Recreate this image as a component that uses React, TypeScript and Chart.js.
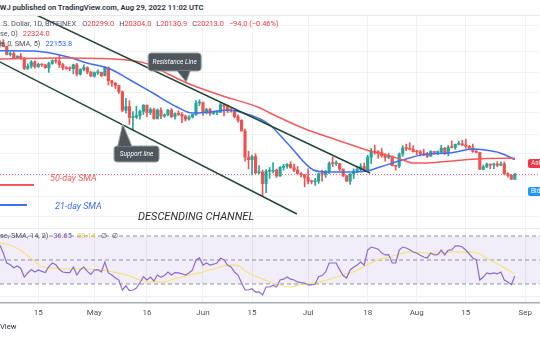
import React, { useEffect, useRef } from 'react';
import { Chart, registerables } from 'chart.js';

Chart.register(...registerables);

// ---------------- data ----------------
// day index: Apr 1 = 0, first candle Apr 4
const FIRST_DAY = 3;

const opens = [
  46410, 46580, 45500, 43170, 43440, 42250, 42750, 42160, 39530, 40070, 41150, 39940, 40550, 40380, 39680, 40800, 41490, 41360, 40480, 39710, 39470, 39450, 40430, 38120, 39240, 39740, 38600,
  37630, 38470, 38530, 37750, 39690, 36550, 36010, 35470, 34060, 30300, 31020, 28940, 29030, 29280, 30080, 31300, 29860, 30430, 28710, 30310, 29190, 29430, 30320, 29100, 29650, 29540, 29200, 28630, 29030, 29470, 31730,
  31800, 29800, 30450, 29700, 29860, 29910, 31370, 31130, 30200, 30110, 29090, 28420, 26570, 22490, 22140, 22580, 20380, 20470, 19020, 20570, 20570, 20720, 19970, 21090, 21230, 21500, 21030, 20730, 20280, 20100,
  19780, 19300, 19240, 19300, 20230, 20190, 20550, 21640, 21590, 21590, 20860, 19970, 19330, 20210, 20570, 20830, 21190, 20780, 22480, 23390, 23230, 23160, 22680, 22460, 22580, 21310, 21250, 22950, 23840, 23780, 23640,
  23300, 23270, 22990, 22820, 22620, 23310, 23170, 23210, 23810, 23160, 23950, 23930, 24400, 24440, 24310, 24100, 23850, 23340, 23190, 20830, 21140, 21520, 21400, 21530, 21370, 21560, 20240, 20040, 19550,
];
const highs = [
  47200, 47440, 45500, 43900, 43970, 42800, 43430, 42410, 40700, 41560, 41500, 40880, 40700, 40600, 41100, 41760, 42200, 42980, 40800, 39990, 39930, 40620, 40800, 39480, 40400, 39930, 38800,
  38680, 39170, 38650, 40020, 39850, 36650, 36130, 35500, 34250, 32660, 32200, 30030, 31080, 30330, 31400, 31300, 30780, 30670, 30540, 30770, 29620, 30480, 30650, 29830, 30200, 29870, 29380, 29270, 29530, 32200, 32400,
  31980, 30670, 30660, 29950, 30180, 31750, 31560, 31330, 30700, 30370, 29440, 28540, 26900, 23360, 22800, 22980, 21340, 20740, 20800, 21070, 21720, 20870, 21200, 21480, 21590, 21860, 21540, 21200, 20400, 20160,
  20880, 19430, 19650, 20350, 20730, 20680, 21840, 22530, 21960, 21600, 20870, 20050, 20260, 20890, 21200, 21580, 21680, 22780, 23800, 24280, 23440, 23760, 22990, 23020, 22670, 21350, 23110, 24200, 24440, 24670, 24190,
  23510, 23470, 23650, 23220, 23450, 23350, 23400, 24250, 23930, 24230, 24920, 24450, 24890, 25050, 25200, 24250, 24440, 23600, 23200, 21380, 21680, 21520, 21650, 21880, 21820, 21820, 20360, 20140, 20304,
];
const lows = [
  45120, 45350, 43050, 42730, 42110, 42130, 41870, 39200, 39250, 39550, 39560, 39760, 40000, 39550, 38540, 40570, 40830, 39760, 39180, 39300, 38900, 38200, 37700, 37870, 38880, 38200, 37580,
  37390, 38050, 37510, 37670, 35570, 35260, 34780, 33720, 30030, 29730, 27700, 26700, 28750, 28620, 29490, 29090, 29460, 28650, 28670, 28730, 28950, 29230, 28880, 28640, 29300, 28020, 28270, 28470, 28820, 29300, 31200,
  29330, 29600, 29300, 29480, 29480, 29880, 29230, 29850, 29950, 28850, 28100, 26560, 21930, 20850, 20110, 20230, 20250, 17620, 17950, 19650, 20350, 19770, 19900, 20720, 20930, 20960, 20510, 20190, 19850, 18630,
  18970, 18980, 18790, 19050, 19300, 19770, 20240, 21180, 21330, 20650, 19900, 19240, 18910, 19620, 20380, 20490, 20760, 20770, 21580, 22910, 22340, 22500, 21930, 22280, 21250, 20720, 21040, 22600, 23420, 23550, 23230,
  22850, 22670, 22700, 22430, 22590, 22930, 22850, 23150, 22860, 22670, 23850, 23630, 24300, 24180, 23780, 23680, 23200, 23100, 20780, 20760, 21060, 20890, 20900, 21160, 21310, 20110, 19820, 19520, 19530,
];
const closes = [
  46580, 45500, 43170, 43440, 42250, 42750, 42160, 39530, 40070, 41150, 39940, 40550, 40380, 39680, 40800, 41490, 41360, 40480, 39710, 39470, 39450, 40430, 38120, 39240, 39740, 38600, 37630,
  38470, 38530, 37750, 39690, 36550, 36010, 35470, 34060, 30300, 31020, 28940, 29030, 29280, 30080, 31300, 29860, 30430, 28710, 30310, 29190, 29430, 30320, 29100, 29650, 29540, 29200, 28630, 29030, 29470, 31730, 31800,
  29800, 30450, 29700, 29860, 29910, 31370, 31130, 30200, 30110, 29090, 28420, 26570, 22490, 22140, 22580, 20380, 20470, 19020, 20570, 20570, 20720, 19970, 21090, 21230, 21500, 21030, 20730, 20280, 20100, 19780,
  19300, 19240, 19300, 20230, 20190, 20550, 21640, 21590, 21590, 20860, 19970, 19330, 20210, 20570, 20830, 21190, 20780, 22480, 23390, 23230, 23160, 22680, 22460, 22580, 21310, 21250, 22950, 23840, 23780, 23640, 23300,
  23270, 22990, 22820, 22620, 23310, 23170, 23210, 23810, 23160, 23950, 23930, 24400, 24440, 24310, 24100, 23850, 23340, 23190, 20830, 21140, 21520, 21400, 21530, 21370, 21560, 20240, 20040, 19550, 20213,
];

// 50-day SMA (red) and 21-day SMA (blue)
const sma50Days = [3.0, 20.2, 31.6, 41.6, 45.3, 51.6, 56.4, 65.8, 77.3, 80.1, 89.5, 99.2, 108.7, 114.4, 118.1, 120.9, 124.9, 133.5, 142.0, 150.0];
const sma50Values = [41944, 42222, 42088, 41424, 40642, 37899, 36023, 33380, 30735, 29776, 27071, 25084, 23391, 22661, 22093, 21675, 21675, 22022, 22303, 22324];
const sma21Days = [3.0, 12.5, 22.2, 27.9, 34.5, 40.2, 46.7, 53.6, 57.9, 63.0, 68.7, 72.4, 77.3, 80.1, 85.8, 92.5, 96.4, 102.1, 107.8, 111.5, 118.0, 124.9, 131.5, 138.0, 141.5, 145.8, 150.0];
const sma21Values = [44228, 44143, 42573, 40903, 39375, 36717, 33806, 30931, 29776, 29964, 30348, 29776, 28662, 27591, 24146, 20733, 20472, 20472, 20601, 21131, 22093, 22950, 23097, 23692, 23540, 23097, 22154];

// RSI (14), one value per day from Apr 4
const rsiValues = [
  62.5, 55.8, 47.5, 46, 43.5, 45, 43, 35.8, 39.2, 42, 40, 41.7, 40.5, 39.5, 44.5, 47.5, 46, 42, 40, 39.5, 39.5, 44.2, 37.5, 42, 44.2, 40.5, 38,
  41.7, 42, 40, 48.3, 39.2, 37.5, 35, 33.3, 25, 28.5, 24.5, 25, 26.7, 31, 36, 33.3, 35.8, 32.5, 37.5, 35.5, 37, 40, 37.5, 39.5, 39.2, 38.5, 37.5, 39.2, 41.7, 50, 51.7,
  45.8, 47.5, 45.8, 46.5, 47.5, 51.7, 50, 45.8, 44.2, 40, 37.5, 31, 25, 25, 26, 23.3, 23.5, 20.8, 27.5, 27.5, 29, 27.5, 33.3, 34, 35.8, 34, 33.3, 31.7, 31.2, 30.8,
  29.2, 29.2, 30, 36, 37, 40, 47.5, 47.5, 47.5, 42, 37, 35, 41.7, 44, 45.8, 48.3, 45.8, 58.3, 60.8, 60, 59, 55.8, 54.2, 54.5, 47.5, 47.5, 58.3, 60.8, 60, 58.5, 56.7,
  55.8, 54, 52.5, 51.7, 55.8, 54.2, 54.5, 58.3, 54.2, 58.3, 58.5, 61.7, 61.7, 60.8, 58.3, 55, 51.7, 50, 33.3, 35.8, 39.2, 38.5, 39.2, 38.5, 40, 33.3, 31.7, 29.5, 36.65,
];
// SMA of RSI (yellow)
const rsiSmaDays = [3.0, 5.9, 8.8, 12.5, 15.3, 18.2, 22.2, 26.8, 31.6, 35.4, 39.3, 43.0, 46.7, 49.6, 53.6, 57.3, 61.0, 65.0, 68.7, 70.7, 73.5, 77.3, 80.2, 83.0, 85.9, 88.7, 92.4, 96.4, 100.1, 103.8, 107.8, 110.7, 114.4, 118.1, 121.0, 125.0, 128.7, 132.4, 136.4, 139.2, 142.9, 146.7, 150.0];
const rsiSmaValues = [64.2, 62.5, 58.3, 50, 44.2, 43.3, 42.5, 42.5, 41.7, 40, 37.5, 33.3, 31.7, 31.7, 35, 37.5, 40, 43.3, 45.8, 45.8, 40, 35, 31.7, 29.2, 27.5, 29.2, 30.8, 33.3, 36.7, 40, 45.8, 50, 52.5, 55.8, 56.7, 55.8, 55.8, 56.7, 56.7, 55.8, 50, 44.2, 38.14];

// drawn trend lines (day, price)
const resistanceDays = [11.6, 108.7];
const resistancePrices = [56580, 20342];
const supportDays = [1.6, 87.8];
const supportPrices = [41849, 15679];

// callouts: tip anchored at (day, price)
const calloutTexts = ['Resistance Line', 'Support line'];
const calloutDays = [56.2, 38.1];
const calloutPrices = [36254, 27767];

// axes
const tickDays = [14, 30, 45, 61, 75, 91, 108, 122, 136, 153];
const tickLabels = ['15', 'May', '16', 'Jun', '15', 'Jul', '18', 'Aug', '15', 'Sep'];
const priceGridLevels = [15400, 17500, 20000, 23000, 26000, 29800, 34000, 38500, 44000, 52000];
const rsiLevels = [70, 50, 30];
const rsiGridLevels = [20];

const X_MIN = 3.07;
const X_MAX = 157.18;
const P_MIN = 14255;
const P_MAX = 55126;
const RSI_MIN = 14.17;
const RSI_MAX = 75.83;

// ---------------- styles ----------------
const UP = '#26a69a';
const DOWN = '#ef5350';
const GRID = '#eef1f6';
const SMA50_COLOR = '#f05a5a';
const SMA21_COLOR = '#3f6ff0';
const TREND_COLOR = '#1f4636';
const FONT = 'Roboto, "Noto Sans", sans-serif';

// callout geometry relative to the tip (pixels): box left/right/top/bottom, wedge base from/to
const calloutGeom = [
  { l: -38, r: 15, t: -29, b: -11, w0: -9, w1: 4 },
  { l: -8.7, r: 36.3, t: 22, b: 38, w0: -5, w1: 9 },
];

const candleColor = (i: number) => (closes[i] >= opens[i] ? UP : DOWN);

const pricePlugin = {
  id: 'pricePane',
  beforeDatasetsDraw(chart: any) {
    const { ctx, chartArea, scales } = chart;
    const y = Math.round(scales.y.getPixelForValue(closes[closes.length - 1])) + 0.5;
    ctx.save();
    ctx.strokeStyle = 'rgba(242,54,69,0.75)';
    ctx.lineWidth = 1;
    ctx.setLineDash([1, 2]);
    ctx.beginPath();
    ctx.moveTo(chartArea.left, y);
    ctx.lineTo(chartArea.right, y);
    ctx.stroke();
    ctx.restore();
  },
  afterDatasetsDraw(chart: any) {
    const { ctx, scales } = chart;
    calloutTexts.forEach((text, k) => {
      const g = calloutGeom[k];
      const x = scales.x.getPixelForValue(calloutDays[k]);
      const y = scales.y.getPixelForValue(calloutPrices[k]);
      const edge = g.b < 0 ? g.b : g.t;
      ctx.save();
      ctx.fillStyle = '#4f565c';
      ctx.strokeStyle = '#9aa1a7';
      ctx.lineWidth = 1;
      ctx.beginPath();
      ctx.roundRect(x + g.l, y + g.t, g.r - g.l, g.b - g.t, 3);
      ctx.fill();
      ctx.stroke();
      ctx.beginPath();
      ctx.moveTo(x + g.w0, y + edge);
      ctx.lineTo(x, y);
      ctx.lineTo(x + g.w1, y + edge);
      ctx.closePath();
      ctx.fill();
      ctx.beginPath();
      ctx.moveTo(x + g.w0, y + edge);
      ctx.lineTo(x, y);
      ctx.lineTo(x + g.w1, y + edge);
      ctx.stroke();
      ctx.fillStyle = '#ffffff';
      ctx.font = 'italic 6.5px ' + FONT;
      ctx.textAlign = 'center';
      ctx.textBaseline = 'middle';
      ctx.fillText(text, x + (g.l + g.r) / 2, y + (g.t + g.b) / 2 + 0.5);
      ctx.restore();
    });
  },
};

function Txt(props: any) {
  const { x, cy, size, color, weight, italic, children, ls } = props;
  return (
    <div
      style={{
        position: 'absolute',
        left: x,
        top: cy - size,
        height: size * 2,
        lineHeight: size * 2 + 'px',
        fontSize: size,
        color,
        fontWeight: weight || 400,
        fontStyle: italic ? 'italic' : 'normal',
        letterSpacing: ls || 0,
        whiteSpace: 'nowrap',
        fontFamily: FONT,
      }}
    >
      {children}
    </div>
  );
}

export default function App() {
  const priceRef = useRef<HTMLCanvasElement>(null);
  const rsiRef = useRef<HTMLCanvasElement>(null);

  useEffect(() => {
    document.body.style.margin = '0';
    const candleDays = closes.map((_, i) => FIRST_DAY + i);
    const xGrid = {
      type: 'linear',
      min: X_MIN,
      max: X_MAX,
      offset: false,
      grid: { color: GRID, drawTicks: false, lineWidth: 1, offset: false },
      border: { display: false },
      afterBuildTicks: (s: any) => {
        s.ticks = tickDays.map((v) => ({ value: v }));
      },
    };

    const price = new Chart(priceRef.current as HTMLCanvasElement, {
      type: 'bar',
      data: {
        datasets: [
          {
            type: 'line',
            data: resistanceDays.map((d, i) => ({ x: d, y: resistancePrices[i] })),
            borderColor: TREND_COLOR,
            borderWidth: 1.5,
            pointRadius: 0,
            order: 0,
          },
          {
            type: 'line',
            data: supportDays.map((d, i) => ({ x: d, y: supportPrices[i] })),
            borderColor: TREND_COLOR,
            borderWidth: 1.5,
            pointRadius: 0,
            order: 0,
          },
          {
            type: 'line',
            data: sma50Days.map((d, i) => ({ x: d, y: sma50Values[i] })),
            borderColor: SMA50_COLOR,
            borderWidth: 1.5,
            pointRadius: 0,
            cubicInterpolationMode: 'monotone',
            order: 1,
          },
          {
            type: 'line',
            data: sma21Days.map((d, i) => ({ x: d, y: sma21Values[i] })),
            borderColor: SMA21_COLOR,
            borderWidth: 1.5,
            pointRadius: 0,
            cubicInterpolationMode: 'monotone',
            order: 1,
          },
          {
            type: 'bar',
            data: candleDays.map((d, i) => ({ x: d, y: [opens[i], closes[i]] })),
            backgroundColor: (c: any) => candleColor(c.dataIndex),
            grouped: false,
            barPercentage: 1,
            categoryPercentage: 1,
            maxBarThickness: 2.5,
            minBarLength: 1,
            borderWidth: 0,
            order: 2,
          },
          {
            type: 'bar',
            data: candleDays.map((d, i) => ({ x: d, y: [lows[i], highs[i]] })),
            backgroundColor: (c: any) => candleColor(c.dataIndex),
            grouped: false,
            barPercentage: 1,
            categoryPercentage: 1,
            maxBarThickness: 1,
            borderWidth: 0,
            order: 3,
          },
        ],
      } as any,
      options: {
        animation: false,
        responsive: false,
        events: [],
        layout: { padding: 0 },
        plugins: { legend: { display: false }, tooltip: { enabled: false } },
        scales: {
          x: { ...xGrid, ticks: { display: false } },
          y: {
            type: 'logarithmic',
            position: 'right',
            min: P_MIN,
            max: P_MAX,
            grid: { color: GRID, drawTicks: false },
            border: { display: false },
            ticks: { display: false },
            afterBuildTicks: (s: any) => {
              s.ticks = priceGridLevels.map((v) => ({ value: v }));
            },
          },
        },
      } as any,
      plugins: [pricePlugin],
    });

    const levelSets = rsiLevels.map((lv, k) => ({
      type: 'line',
      data: [
        { x: X_MIN, y: lv },
        { x: X_MAX, y: lv },
      ],
      borderColor: '#90939c',
      borderDash: [4, 3],
      borderWidth: 1,
      pointRadius: 0,
      fill: k === 0 ? { value: rsiLevels[rsiLevels.length - 1] } : false,
      backgroundColor: 'rgba(126,87,194,0.1)',
      order: 5,
    }));

    const rsi = new Chart(rsiRef.current as HTMLCanvasElement, {
      type: 'line',
      data: {
        datasets: [
          {
            data: rsiValues.map((v, i) => ({ x: FIRST_DAY + i, y: v })),
            borderColor: '#8c6bd0',
            borderWidth: 1.2,
            pointRadius: 0,
            order: 1,
          },
          {
            data: rsiSmaDays.map((d, i) => ({ x: d, y: rsiSmaValues[i] })),
            borderColor: '#f6e17c',
            borderWidth: 1.2,
            pointRadius: 0,
            cubicInterpolationMode: 'monotone',
            order: 2,
          },
          ...levelSets,
        ],
      } as any,
      options: {
        animation: false,
        responsive: false,
        events: [],
        layout: { padding: 0 },
        plugins: { legend: { display: false }, tooltip: { enabled: false } },
        scales: {
          x: {
            ...xGrid,
            border: { display: true, color: '#a9acb4', width: 1.5 },
            ticks: {
              display: true,
              autoSkip: false,
              maxRotation: 0,
              padding: 5,
              color: '#4c505b',
              font: { family: FONT, size: 8 },
              callback: (_v: any, i: number) => tickLabels[i],
            },
            afterFit: (s: any) => {
              s.height = 37;
            },
          },
          y: {
            type: 'linear',
            position: 'right',
            min: RSI_MIN,
            max: RSI_MAX,
            grid: { color: GRID, drawTicks: false },
            border: { display: false },
            ticks: { display: false },
            afterBuildTicks: (s: any) => {
              s.ticks = rsiGridLevels.map((v) => ({ value: v }));
            },
          },
        },
      } as any,
    });

    return () => {
      price.destroy();
      rsi.destroy();
    };
  }, []);

  const grey = '#50535e';
  const red = '#f23645';
  return (
    <div style={{ position: 'relative', width: 540, height: 340, overflow: 'hidden', background: '#ffffff', fontFamily: FONT }}>
      <canvas ref={priceRef} width={540} height={213} style={{ position: 'absolute', left: 0, top: 16 }} />
      <canvas ref={rsiRef} width={540} height={111} style={{ position: 'absolute', left: 0, top: 229 }} />
      <div style={{ position: 'absolute', left: 0, top: 15, width: 540, height: 1, background: '#e6e9ef' }} />
      <div style={{ position: 'absolute', left: 0, top: 228, width: 540, height: 1, background: '#e9ecf1' }} />

      <Txt x={-5} cy={8} size={7.6} color="#2a2e39" weight={600}>TWJ published on TradingView.com, Aug 29, 2022 11:02 UTC</Txt>

      <Txt x={1} cy={24.5} size={7.4} color={grey}>
        .S. Dollar, 1D, BITFINEX
        <span style={{ marginLeft: 6 }}>O</span><span style={{ color: red }}>20299.0</span>
        <span style={{ marginLeft: 5 }}>H</span><span style={{ color: red }}>20304.0</span>
        <span style={{ marginLeft: 5 }}>L</span><span style={{ color: red }}>20130.9</span>
        <span style={{ marginLeft: 5 }}>C</span><span style={{ color: red }}>20213.0</span>
        <span style={{ marginLeft: 5, color: red }}>−94.0 (−0.46%)</span>
      </Txt>
      <Txt x={0} cy={34.3} size={7.4} color={grey}>
        se, 0)<span style={{ marginLeft: 5, color: red }}>22324.0</span>
      </Txt>
      <Txt x={0} cy={44.3} size={7.4} color={grey}>
        e, 0, SMA, 5)<span style={{ marginLeft: 5, color: '#2962ff' }}>22153.8</span>
      </Txt>

      <div style={{ position: 'absolute', left: 0, top: 184.2, width: 34, height: 1.6, background: SMA50_COLOR }} />
      <Txt x={50} cy={178} size={9} color={SMA50_COLOR} italic>50-day SMA</Txt>
      <div style={{ position: 'absolute', left: 0, top: 204.2, width: 27, height: 1.6, background: SMA21_COLOR }} />
      <Txt x={55} cy={205.5} size={9} color={SMA21_COLOR} italic>21-day SMA</Txt>
      <Txt x={138} cy={217} size={11} color="#2e3032" italic>DESCENDING CHANNEL</Txt>

      <Txt x={0} cy={236} size={7.4} color={grey}>
        se, SMA, 14, 2)<span style={{ marginLeft: 5, color: '#7e57c2' }}>36.65</span>
        <span style={{ marginLeft: 5, color: '#e2c84a' }}>38.14</span>
        <span style={{ marginLeft: 5 }}>∅</span>
        <span style={{ marginLeft: 5 }}>∅</span>
      </Txt>

      <div style={{ position: 'absolute', left: 528, top: 159, width: 20, height: 9, background: '#f23645', borderRadius: 2 }} />
      <Txt x={531} cy={163.5} size={6.5} color="#ffffff">Ask</Txt>
      <div style={{ position: 'absolute', left: 528, top: 187, width: 20, height: 9, background: '#2196f3', borderRadius: 2 }} />
      <Txt x={531} cy={191.5} size={6.5} color="#ffffff">Bid</Txt>

      <Txt x={0} cy={327} size={7.6} color="#2a2e39">View</Txt>
    </div>
  );
}
